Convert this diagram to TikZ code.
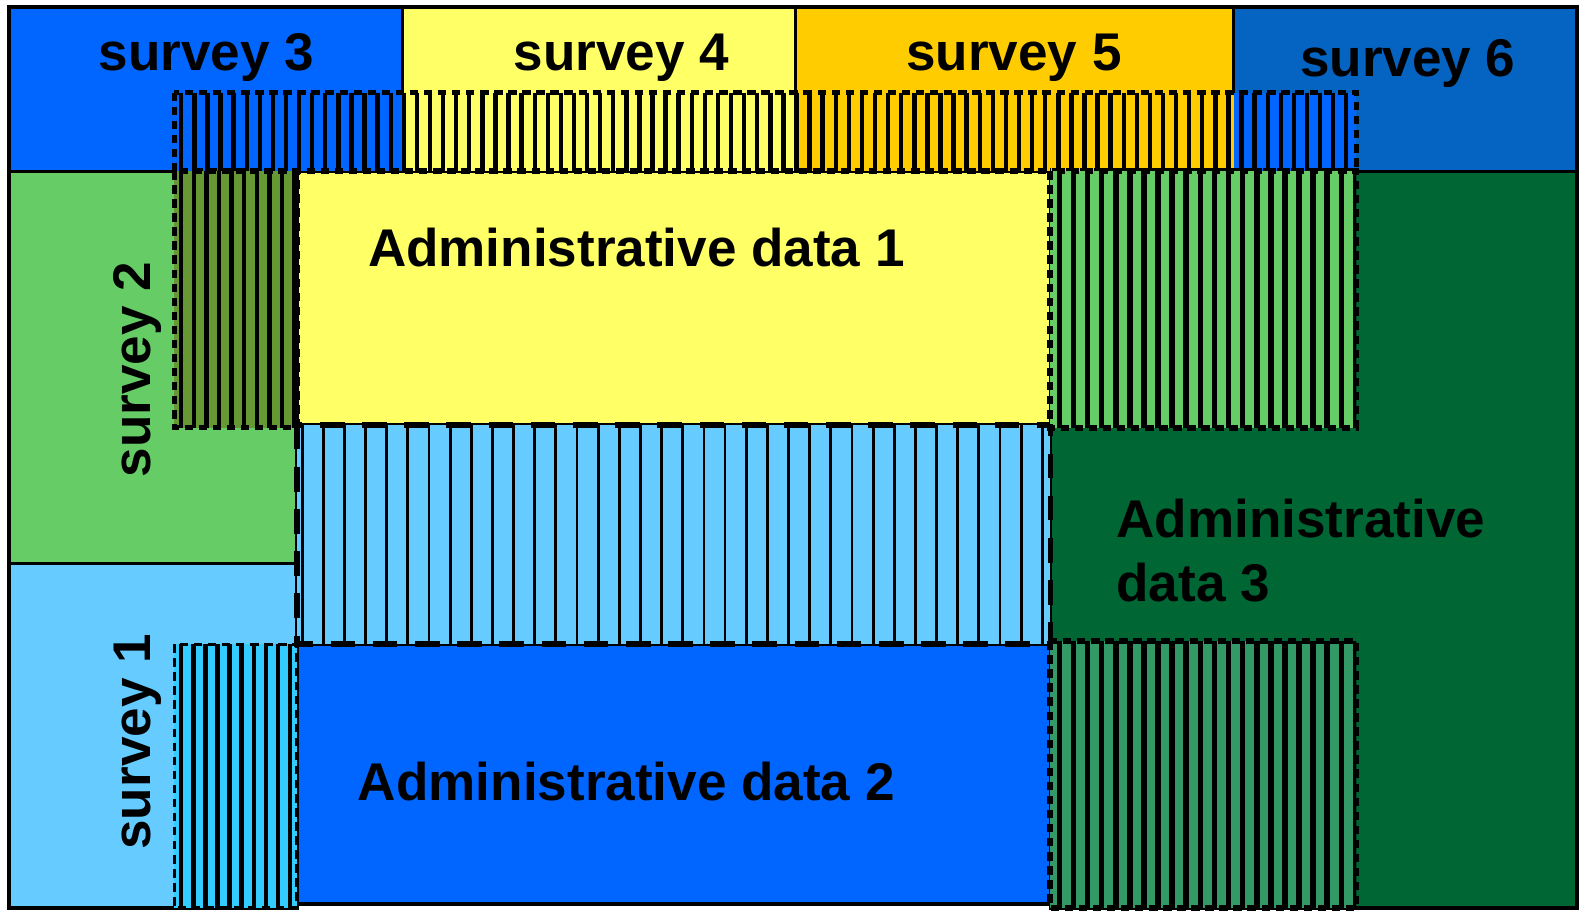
\documentclass[tikz,border=0pt]{standalone}
\usepackage{fontspec}
\setmainfont{Liberation Sans}
\usepackage{tikz}
\definecolor{brightblue}{HTML}{0066FF}
\definecolor{paleyellow}{HTML}{FFFF66}
\definecolor{goldorange}{HTML}{FFCC00}
\definecolor{deepblue}{HTML}{0563C1}
\definecolor{leafgreen}{HTML}{66CC66}
\definecolor{skyblue}{HTML}{66CCFF}
\definecolor{cyanblue}{HTML}{33CCFF}
\definecolor{forest}{HTML}{006633}
\definecolor{seagreen}{HTML}{339966}
\definecolor{olivegreen}{HTML}{669933}
\tikzstyle{box} = [draw=black, line width=0.9pt]
\tikzstyle{stripe} = [black, line width=1.25pt]
\tikzstyle{thinstripe} = [black, line width=0.8pt]
\tikzstyle{hatchedge} = [draw=black, line width=1.5pt, dash pattern=on 2.4pt off 1.6pt]
\tikzstyle{lbl} = [font=\fontsize{15.1}{18.1}\selectfont\bfseries, inner sep=0pt]

\begin{document}
\begin{tikzpicture}[x=1.007cm,y=-1.0066cm]
\useasboundingbox (0,0) rectangle (15.68,9.09);
% surveys along the top
\draw[box, fill=brightblue] (0.09,0.07) rectangle (4.00,1.70);
\draw[box, fill=paleyellow] (4.00,0.07) rectangle (7.90,1.70);
\draw[box, fill=goldorange] (7.90,0.07) rectangle (12.25,1.70);
\draw[box, fill=deepblue] (12.25,0.07) rectangle (15.66,1.70);
% surveys on the left
\draw[box, fill=leafgreen] (0.09,1.70) rectangle (2.95,5.60);
\draw[box, fill=skyblue] (0.09,5.60) rectangle (2.95,9.02);
% administrative data
\draw[box, fill=paleyellow] (2.95,1.70) rectangle (10.43,4.22);
\draw[box, fill=brightblue] (2.95,6.40) rectangle (10.43,8.98);
\draw[box, fill=forest] (10.43,1.70) rectangle (15.66,9.02);

% overlap along the top
\fill[brightblue] (1.73,0.92) rectangle (4.00,1.70);
\fill[paleyellow] (4.00,0.92) rectangle (7.90,1.70);
\fill[goldorange] (7.90,0.92) rectangle (12.25,1.70);
\fill[brightblue] (12.25,0.92) rectangle (13.47,1.70);
\begin{scope}
\clip (1.73,0.92) rectangle (13.47,1.70);
\foreach \x in {1.80,1.93,...,13.47} \draw[stripe] (\x,0.92) -- (\x,1.70);
\end{scope}
\draw[hatchedge] (1.73,0.92) rectangle (13.47,1.70);

% overlap survey 2
\fill[olivegreen] (1.73,1.70) rectangle (2.95,4.25);
\begin{scope}
\clip (1.73,1.70) rectangle (2.95,4.25);
\foreach \x in {1.80,1.925,...,2.95} \draw[stripe] (\x,1.70) -- (\x,4.25);
\end{scope}
\draw[hatchedge] (1.73,1.70) rectangle (2.95,4.25);

% overlap survey 1
\fill[cyanblue] (1.73,6.40) rectangle (2.95,9.02);
\begin{scope}
\clip (1.73,6.40) rectangle (2.95,9.02);
\foreach \x in {1.80,1.92,...,2.95} \draw[stripe] (\x,6.40) -- (\x,9.02);
\end{scope}
\draw[hatchedge, line width=0.9pt] (1.73,6.40) rectangle (2.95,9.02);

% overlap between administrative data 1 and 2
\fill[skyblue] (2.95,4.22) rectangle (10.43,6.40);
\begin{scope}
\clip (2.95,4.22) rectangle (10.43,6.40);
\foreach \x in {3.00,3.21,...,10.43} \draw[thinstripe] (\x,4.22) -- (\x,6.40);
\end{scope}
\draw[hatchedge, line width=1.6pt, dash pattern=on 7pt off 5pt] (2.95,4.22) rectangle (10.43,6.40);

% overlaps with administrative data 3
\fill[leafgreen] (10.43,1.70) rectangle (13.47,4.25);
\begin{scope}
\clip (10.43,1.70) rectangle (13.47,4.25);
\foreach \x in {10.52,10.66,...,13.47} \draw[stripe, line width=1.6pt] (\x,1.70) -- (\x,4.25);
\end{scope}
\draw[hatchedge, line width=1.7pt] (10.43,1.70) rectangle (13.47,4.25);

\fill[seagreen] (10.43,6.37) rectangle (13.47,9.02);
\begin{scope}
\clip (10.43,6.37) rectangle (13.47,9.02);
\foreach \x in {10.52,10.66,...,13.47} \draw[stripe, line width=1.6pt] (\x,6.37) -- (\x,9.02);
\end{scope}
\draw[hatchedge, line width=1.7pt] (10.43,6.37) rectangle (13.47,9.02);

% labels
\node[lbl] (s3) at (2.05,0.57) {survey 3};
\node[lbl] (s4) at (6.17,0.57) {survey 4};
\node[lbl] (s5) at (10.07,0.57) {survey 5};
\node[lbl] (s6) at (13.98,0.63) {survey 6};
\node[lbl, rotate=90] (s2) at (1.37,3.67) {survey 2};
\node[lbl, rotate=90] (s1) at (1.37,7.37) {survey 1};
\node[lbl] (a1) at (6.32,2.46) {Administrative data 1};
\node[lbl] (a2) at (6.22,7.76) {Administrative data 2};
\node[lbl, align=left, anchor=west] (a3) at (11.08,5.47) {Administrative\\data 3};
\end{tikzpicture}
\end{document}
